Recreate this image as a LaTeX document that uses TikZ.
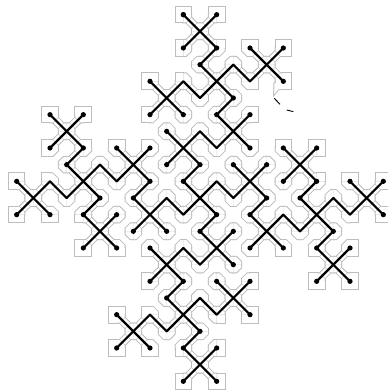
\documentclass[tikz,border=0pt]{standalone}
\usepackage{xcolor}
\definecolor{lineblack}{HTML}{000000}
\definecolor{hullgray}{HTML}{BDBDBD}
% lists that the motif loop fills
\xdef\vertexlist{0/0}
\xdef\dotlist{v-1_-11}
\xdef\edgelist{v1_-3/v0_-4,v3_1/v4_0,v-1_3/v0_4,v-3_-1/v-4_0}

\begin{document}
\begin{tikzpicture}[
  x=12.5pt, y=-12.5pt,
  treeedge/.style={draw=lineblack, line width=1.6pt, line cap=round},
  treedot/.style={circle, fill=lineblack, inner sep=0pt, minimum size=3.9pt},
  hullstroke/.style={draw=hullgray, line width=1.5pt},
  hullfill/.style={fill=white}
]
\clip (-12,-11.88) rectangle (11.28,11.64);
% five motifs, each with four arms that end in a cross
\foreach \cx/\cy in {0/0,1/-7,7/1,-1/7,-7/-1} {
  \coordinate (v\cx_\cy) at (\cx,\cy);
  \xdef\vertexlist{\vertexlist,\cx/\cy}
  \foreach \ux/\uy in {1/0,0/1,-1/0,0/-1} {
    \pgfmathtruncatemacro\ax{\cx-\ux+\uy}
    \pgfmathtruncatemacro\ay{\cy-\uy-\ux}
    \pgfmathtruncatemacro\bx{\cx+2*\uy}
    \pgfmathtruncatemacro\by{\cy-2*\ux}
    \pgfmathtruncatemacro\kx{\cx-\ux+3*\uy}
    \pgfmathtruncatemacro\ky{\cy-\uy-3*\ux}
    \coordinate (v\ax_\ay) at (\ax,\ay);
    \coordinate (v\kx_\ky) at (\kx,\ky);
    \xdef\vertexlist{\vertexlist,\ax/\ay,\kx/\ky}
    \xdef\edgelist{\edgelist,v\cx_\cy/v\ax_\ay,v\ax_\ay/v\bx_\by,v\bx_\by/v\kx_\ky}
    \ifnum\uy=0 \xdef\dotlist{\dotlist,v\ax_\ay,v\bx_\by}\fi
    \foreach \sx/\sy in {1/1,1/-1,-1/1,-1/-1} {
      \pgfmathtruncatemacro\lx{\kx+\sx}
      \pgfmathtruncatemacro\ly{\ky+\sy}
      \coordinate (v\lx_\ly) at (\lx,\ly);
      \xdef\vertexlist{\vertexlist,\lx/\ly}
      \ifnum\lx=\bx\ifnum\ly=\by\else\xdef\edgelist{\edgelist,v\kx_\ky/v\lx_\ly}\fi
      \else\xdef\edgelist{\edgelist,v\kx_\ky/v\lx_\ly}\fi
      \pgfmathtruncatemacro\nearby{(abs(\lx)<2)*(abs(\ly)<5)+(\lx==\bx)*(\ly==\by)}
      \ifnum\nearby=0 \xdef\dotlist{\dotlist,v\lx_\ly}\fi
    }
  }
}
% hull: stroke every piece, then paint all pieces white
\foreach \layer in {hullstroke,hullfill} {
  \foreach \x/\y in \vertexlist {
    \foreach \sx/\sy in {1/1,1/-1,-1/1,-1/-1} {
      \pgfmathtruncatemacro\nx{\x+\sx}
      \pgfmathtruncatemacro\ny{\y+\sy}
      \ifcsname pgf@sh@ns@v\nx_\ny\endcsname
        \path[\layer, shift={(\x,\y)}, xscale=\sx, yscale=\sy] (0,0) -- (.47,0) -- (.47,.17) -- (.17,.47) -- (0,.47) -- cycle;
      \else
        \path[\layer, shift={(\x,\y)}, xscale=\sx, yscale=\sy] (0,0) -- (.47,0) -- (.47,.47) -- (0,.47) -- cycle;
      \fi
    }
  }
  \foreach \a/\b in \edgelist {
    \path (\a) -- (\b) coordinate[midway] (mid);
    \path[\layer, shift={(mid)}] (.3,0) -- (0,.3) -- (-.3,0) -- (0,-.3) -- cycle;
  }
  % the hull stops in a spike below the upper right cross
  \path[\layer] (4.47,-6.9) -- (4.45,-6.22) -- (4.7,-6.53) -- (5,-6.53) -- (5,-7) -- cycle;
}
\foreach \a/\b in \edgelist \draw[treeedge] (\a) -- (\b);
\foreach \v in \dotlist \node[treedot] (d\v) at (\v) {};
\draw[lineblack, line width=.7pt] (4.46,-5.98) -- (4.8,-5.62) (5.2,-5.28) -- (5.6,-5.18);
\end{tikzpicture}
\end{document}
